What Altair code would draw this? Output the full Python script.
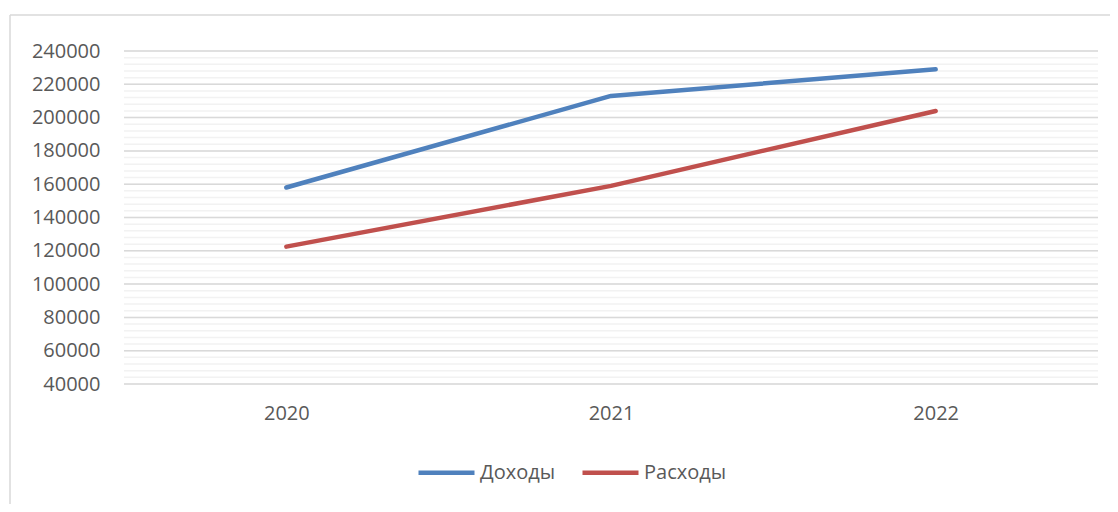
import altair as alt
import pandas as pd

YEARS = ["2020", "2021", "2022"]
INCOME = [158000, 213000, 229000]
EXPENSES = [122500, 159000, 204000]
SERIES = ["Доходы", "Расходы"]
COLORS = ["#4f81bd", "#c0504d"]

rows = []
for name, vals in zip(SERIES, [INCOME, EXPENSES]):
    for yr, v in zip(YEARS, vals):
        rows.append({"year": yr, "value": v, "series": name})
df = pd.DataFrame(rows)

W, H = 974, 333
FONT = "Open Sans"
TXT = "#595959"

yscale = alt.Scale(domain=[40000, 240000], nice=False, zero=False)
yaxis = alt.Axis(values=list(range(40000, 240001, 20000)), grid=False, format="d",
                 ticks=False, domain=False, labelFont=FONT,
                 labelFontSize=20, labelColor=TXT, labelPadding=24, title=None)

frame_left = alt.Chart(alt.Data(values=[{"a": 1}])).mark_rule(
    color="#d9d9d9", strokeWidth=1.5
).encode(x=alt.value(-114), y=alt.value(-36), y2=alt.value(H + 300))

frame_top = alt.Chart(alt.Data(values=[{"a": 1}])).mark_rule(
    color="#d9d9d9", strokeWidth=1.5
).encode(y=alt.value(-36), x=alt.value(-114), x2=alt.value(W + 200))

minor = alt.Chart(alt.sequence(start=40000, stop=244000, step=4000, as_="v")).mark_rule(
    color="#f2f2f2", strokeWidth=1.5
).encode(y=alt.Y("v:Q", scale=yscale, axis=yaxis, title=None))

major = alt.Chart(alt.sequence(start=40000, stop=260000, step=20000, as_="v")).mark_rule(
    color="#d9d9d9", strokeWidth=1.5
).encode(y=alt.Y("v:Q", scale=yscale, axis=yaxis, title=None))

lines = alt.Chart(df).mark_line(strokeWidth=4.5, strokeCap="round", strokeJoin="round").encode(
    x=alt.X("year:O", sort=YEARS, title=None,
            scale=alt.Scale(type="point", padding=0.5),
            axis=alt.Axis(labelAngle=0, ticks=False, domain=False, grid=False,
                          labelFont=FONT, labelFontSize=20, labelColor=TXT,
                          labelPadding=19)),
    y=alt.Y("value:Q", scale=yscale, title=None, axis=yaxis),
    color=alt.Color("series:N", sort=SERIES,
                    scale=alt.Scale(domain=SERIES, range=COLORS),
                    legend=alt.Legend(title=None, orient="none", direction="horizontal",
                                      legendX=292, legendY=391,
                                      symbolType="stroke", symbolSize=3136,
                                      symbolStrokeWidth=4.5,
                                      labelFont=FONT, labelFontSize=20,
                                      labelColor=TXT, labelOffset=3,
                                      columnPadding=17)),
)

chart = alt.layer(frame_left, frame_top, minor, major, lines).properties(
    width=W, height=H,
    padding={"left": 116, "top": 43, "right": 12, "bottom": 120},
    autosize=alt.AutoSizeParams(type="none"),
).configure_view(stroke=None)

chart.save("out.html", embed_options={"renderer": "svg", "actions": False})
